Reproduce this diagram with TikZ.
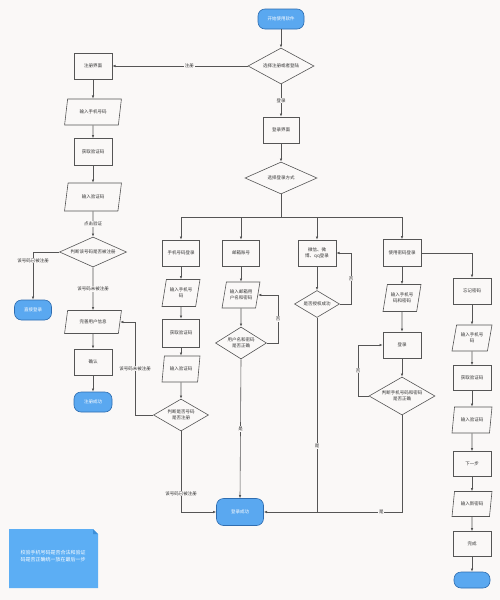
\documentclass[tikz,border=0pt]{standalone}
\usepackage{fontspec}
\setmainfont{Noto Sans CJK SC}
\usetikzlibrary{shapes.geometric,arrows.meta}
\definecolor{bg}{HTML}{FAF8F7}
\definecolor{lnc}{HTML}{555555}
\definecolor{tb}{HTML}{5AA8F0}
\definecolor{tbd}{HTML}{2F6DB0}
\definecolor{notec}{HTML}{5CAEF4}
\definecolor{notef}{HTML}{3E8FD8}
\begin{document}
\begin{tikzpicture}[x=1pt,y=-1pt,
  base/.style={font=\fontsize{4.5}{5.6}\selectfont, align=center, inner sep=0.5pt, text=black!80},
  box/.style={base, rectangle, draw=lnc, line width=0.6pt, fill=bg, minimum width=38pt, minimum height=26pt},
  io/.style={base, trapezium, trapezium left angle=72, trapezium right angle=108, trapezium stretches=true, draw=lnc, line width=0.6pt, fill=bg, minimum width=40pt, minimum height=26pt},
  dec/.style={base, diamond, aspect=2.2, inner sep=0pt, draw=lnc, line width=0.6pt, fill=bg},
  term/.style={base, rectangle, rounded corners=7pt, draw=tbd, line width=0.6pt, fill=tb, text=white, minimum width=38pt, minimum height=20pt},
  lab/.style={base, fill=bg, inner sep=0.8pt},
  wire/.style={draw=lnc, line width=0.6pt},
  arr/.style={wire, -{Latex[length=3.2pt,width=2.6pt]}}]
\fill[bg] (0,0) rectangle (500,600);
\useasboundingbox (0,0) rectangle (500,600);

% top
\node[term, minimum width=46pt] (start) at (281,19) {开始使用软件};
\node[dec, minimum width=66pt, minimum height=36pt] (d1) at (281,66) {选择注册或者登陆};
\node[box] (reg) at (93,66) {注册界面};
\node[box, minimum width=36pt] (login) at (281,130) {登录界面};
\node[dec, minimum width=72pt, minimum height=32pt] (d3) at (281,178) {选择登录方式};

% register column
\node[io, minimum width=57pt] (r1) at (93,112) {输入手机号码};
\node[box, minimum height=27pt] (r2) at (93,152) {获取验证码};
\node[io, minimum width=57pt, minimum height=28pt] (r3) at (93,197) {输入验证码};
\node[dec, minimum width=67pt, minimum height=30pt] (d2) at (93,252) {判断该号码是否被注册};
\node[term, minimum width=37pt] (direct) at (33,310) {直接登录};
\node[io, minimum width=57pt, minimum height=23pt] (info) at (93,322) {完善用户信息};
\node[box] (confirm) at (93,362) {确认};
\node[term] (regok) at (93,402) {注册成功};

% phone column
\node[box, minimum width=37pt] (p1) at (181,253) {手机号码登录};
\node[io, minimum width=38pt, minimum height=27pt] (p2) at (181,293) {输入手机号\\码};
\node[box, minimum width=37pt, minimum height=28pt] (p3) at (181,333) {获取验证码};
\node[io, minimum width=38pt] (p4) at (181,369) {输入验证码};
\node[dec, minimum width=55pt, minimum height=32pt] (pd) at (181,415) {判断是否号码\\是否注册};

% email column
\node[box, minimum width=37pt] (e1) at (241,253) {邮箱账号};
\node[io, minimum width=38pt] (e2) at (241,295) {输入邮箱用\\户名和密码};
\node[dec, minimum width=51pt, minimum height=32pt] (ed) at (241,343) {用户名和密码\\是否正确};

% wechat column
\node[box] (w1) at (317,253) {微信、微\\博、qq登录};
\node[dec, minimum width=45pt, minimum height=27pt] (wd) at (317,304) {是否授权成功};

% password column
\node[box, minimum height=27pt] (k1) at (402,253) {使用密码登录};
\node[io, minimum width=38pt, minimum height=27pt] (k2) at (402,298) {输入手机号\\码和密码};
\node[box] (k3) at (402,345) {登录};
\node[dec, minimum width=66pt, minimum height=38pt] (kd) at (402,396) {判断手机号码和密码\\是否正确};

% forgot column
\node[box] (f1) at (472,291) {忘记密码};
\node[io] (f2) at (472,338) {输入手机号\\码};
\node[box, minimum height=25pt] (f3) at (472,378) {获取验证码};
\node[io] (f4) at (472,420) {输入验证码};
\node[box, minimum height=25pt] (f5) at (472,464) {下一步};
\node[io, minimum height=25pt] (f6) at (472,504) {输入新密码};
\node[box, minimum height=25pt] (f7) at (472,544) {完成};
\node[term, minimum width=36pt, minimum height=16pt] (f8) at (472,580) {};

% end
\node[term, minimum width=47pt, minimum height=27pt] (ok) at (240,512) {登录成功};

% note
\fill[notec] (9,529) -- (93,529) -- (98,534) -- (98,588) -- (9,588) -- cycle;
\fill[notef] (93,529) -- (98,534) -- (93,534) -- cycle;
\node[base, text=white, font=\fontsize{5}{6.5}\selectfont] (note) at (53,556) {校验手机号码是否合法和验证\\码是否正确统一放在最后一步};

% coordinates
\coordinate (bus) at (281,217);
\coordinate (rl) at (33,252);
\coordinate (pl) at (135,415);
\coordinate (pb) at (181,512);
\coordinate (el) at (278,343);
\coordinate (wl) at (351,304);
\coordinate (wb) at (317,512);
\coordinate (kl) at (358,396);
\coordinate (kb) at (402,512);

% connectors
\draw[arr] (start) -- (d1);
\draw[arr] (d1.west) -- node[lab, pos=0.43] {注册} (reg.east);
\draw[arr] (d1.south) -- node[lab] {登录} (login.north);
\draw[arr] (reg) -- (r1);
\draw[arr] (r1) -- (r2);
\draw[arr] (r2) -- (r3);
\draw[arr] (r3) -- node[lab] {点击验证} (d2);
\draw[arr] (d2.west) -- (rl) -- node[lab, pos=0.18] {该号码已被注册} (direct.north);
\draw[arr] (d2.south) -- node[lab, pos=0.5] {该号码未被注册} (info.north);
\draw[arr] (info) -- (confirm);
\draw[arr] (confirm) -- (regok);

\draw[arr] (login) -- (d3);
\draw[wire] (d3.south) -- (bus);
\draw[arr] (bus) -| (p1.north);
\draw[arr] (bus) -| (e1.north);
\draw[arr] (bus) -| (w1.north);
\draw[arr] (bus) -| (k1.north);

\draw[arr] (p1) -- (p2);
\draw[arr] (p2) -- (p3);
\draw[arr] (p3) -- (p4);
\draw[arr] (p4) -- (pd);
\draw[arr] (pd.west) -- (pl) -- node[lab, pos=0.5] {该号码未被注册} (pl |- info.east) -- (info.east);
\draw[arr] (pd.south) -- node[lab, pos=0.77] {该号码已被注册} (pb) -- (ok.west);

\draw[arr] (e1) -- (e2);
\draw[arr] (e2) -- (ed);
\draw[arr] (ed.east) -- (el) -- node[lab] {否} (el |- e2.east) -- (e2.east);
\draw[arr] (ed.south) -- node[lab, pos=0.5] {是} (ok.north);

\draw[arr] (w1) -- (wd);
\draw[arr] (wd.east) -- (wl) -- node[lab] {否} (wl |- w1.east) -- (w1.east);
\draw[wire] (wd.south) -- node[lab, pos=0.66] {是} (wb);

\draw[arr] (k1) -- (k2);
\draw[arr] (k2) -- (k3);
\draw[arr] (k3) -- (kd);
\draw[arr] (kd.west) -- (kl) -- node[lab] {否} (kl |- k3.west) -- (k3.west);
\draw[arr] (kd.south) -- (kb) -- node[lab, pos=0.15] {是} (ok.east);

\draw[arr] (k1.east) -| (f1.north);
\draw[arr] (f1) -- (f2);
\draw[arr] (f2) -- (f3);
\draw[arr] (f3) -- (f4);
\draw[arr] (f4) -- (f5);
\draw[arr] (f5) -- (f6);
\draw[arr] (f6) -- (f7);
\draw[arr] (f7) -- (f8);
\end{tikzpicture}
\end{document}
